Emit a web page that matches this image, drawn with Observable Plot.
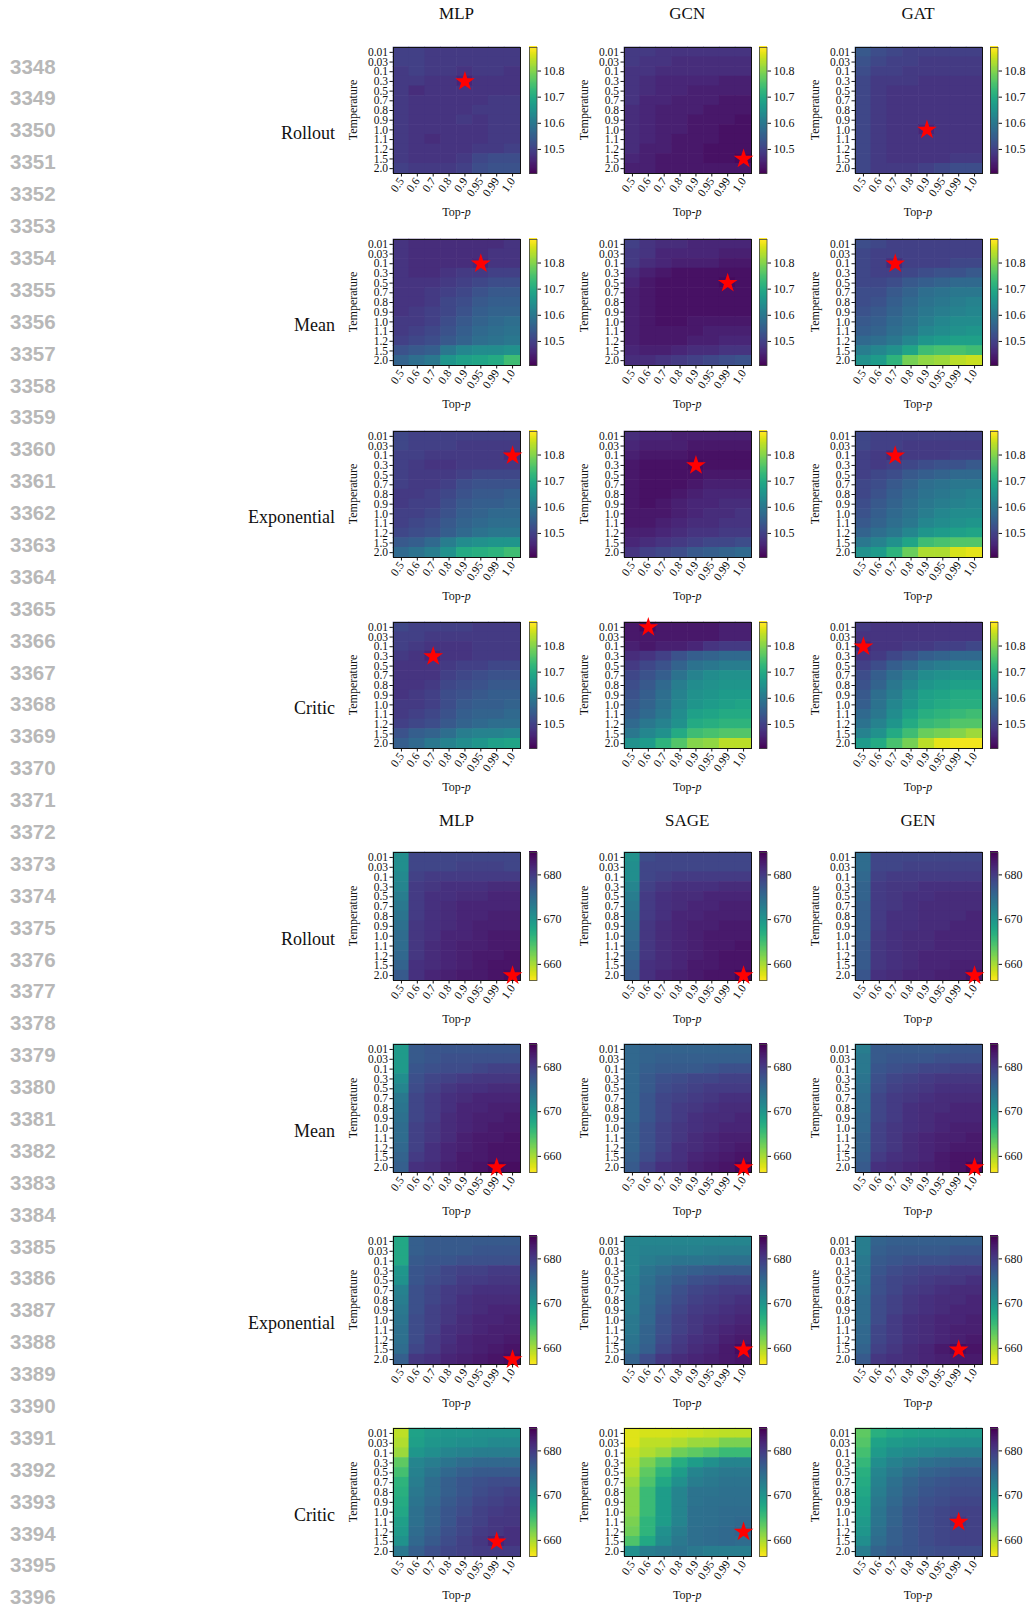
<!DOCTYPE html>
<html>
<head>
<meta charset="utf-8">
<script src="https://cdn.jsdelivr.net/npm/d3@7"></script>
<script src="https://cdn.jsdelivr.net/npm/@observablehq/plot@0.6"></script>
<style>
  body { margin: 0; background: #fff; }
  #fig { position: relative; width: 1027px; height: 1607px; overflow: hidden; background: #fff;
         font-family: "Liberation Serif", "DejaVu Serif", serif; color: #111; }
  .abs { position: absolute; white-space: nowrap; }
  .lineno { position: absolute; left: 10px; font-family: "Liberation Sans", Arial, sans-serif;
            font-weight: bold; color: #b8b8b8; font-size: 20.5px; line-height: 20px; }
  .coltitle { font-size: 17px; transform: translate(-50%, -50%); }
  .rowlabel { font-size: 18px; transform: translate(-100%, -50%); }
  .ylab { font-size: 12px; transform: translate(-50%, -50%) rotate(-90deg); }
  .xlab { font-size: 12px; transform: translate(-50%, -50%); }
  .abs svg { overflow: visible; max-width: none !important; display: block; }
</style>
</head>
<body>
<div id="fig"></div>
<script>
// ---- axes ----
const temperatures = ["0.01","0.03","0.1","0.3","0.5","0.7","0.8","0.9","1.0","1.1","1.2","1.5","2.0"];
const topPs = ["0.5","0.6","0.7","0.8","0.9","0.95","0.99","1.0"];
const strategies = ["Rollout","Mean","Exponential","Critic"];
const upperModels = ["MLP","GCN","GAT"];
const lowerModels = ["MLP","SAGE","GEN"];
const lineNumbers = d3.range(3348, 3397);

// colour bar extents and ticks
const upperDomain = [10.408, 10.89];
const upperTicks = [10.5, 10.6, 10.7, 10.8];
const lowerDomain = [656.4, 685];
const lowerTicks = [660, 670, 680];

// ---- upper block (lower is better), rows = temperature, columns = top-p ----
const upperMLPRollout = [
  [10.50,10.50,10.49,10.49,10.49,10.49,10.49,10.49],
  [10.50,10.50,10.49,10.49,10.49,10.49,10.49,10.49],
  [10.49,10.50,10.49,10.49,10.48,10.49,10.49,10.48],
  [10.49,10.49,10.48,10.48,10.46,10.48,10.48,10.48],
  [10.49,10.47,10.48,10.48,10.48,10.48,10.48,10.48],
  [10.49,10.48,10.48,10.48,10.48,10.48,10.49,10.49],
  [10.49,10.48,10.48,10.48,10.48,10.49,10.49,10.49],
  [10.49,10.48,10.48,10.48,10.49,10.48,10.49,10.49],
  [10.49,10.48,10.48,10.48,10.48,10.48,10.49,10.49],
  [10.49,10.48,10.47,10.48,10.48,10.48,10.49,10.49],
  [10.49,10.48,10.48,10.48,10.48,10.49,10.49,10.50],
  [10.49,10.48,10.48,10.48,10.49,10.51,10.52,10.52],
  [10.50,10.49,10.49,10.49,10.50,10.52,10.53,10.53]
];
const upperGCNRollout = [
  [10.49,10.49,10.48,10.48,10.48,10.48,10.48,10.48],
  [10.49,10.48,10.48,10.47,10.47,10.47,10.47,10.47],
  [10.48,10.48,10.47,10.47,10.47,10.47,10.47,10.47],
  [10.48,10.47,10.46,10.46,10.46,10.46,10.45,10.45],
  [10.48,10.47,10.46,10.46,10.45,10.45,10.45,10.45],
  [10.48,10.46,10.46,10.45,10.45,10.45,10.44,10.44],
  [10.47,10.46,10.45,10.45,10.45,10.44,10.44,10.44],
  [10.47,10.46,10.45,10.45,10.44,10.44,10.44,10.43],
  [10.47,10.46,10.45,10.45,10.44,10.44,10.43,10.43],
  [10.47,10.46,10.45,10.44,10.44,10.44,10.43,10.43],
  [10.47,10.45,10.45,10.44,10.44,10.43,10.43,10.43],
  [10.46,10.45,10.44,10.44,10.44,10.43,10.43,10.42],
  [10.45,10.45,10.44,10.44,10.44,10.44,10.44,10.44]
];
const upperGATRollout = [
  [10.54,10.52,10.51,10.50,10.50,10.50,10.50,10.50],
  [10.53,10.51,10.50,10.50,10.49,10.49,10.49,10.49],
  [10.52,10.50,10.50,10.49,10.49,10.49,10.49,10.49],
  [10.51,10.49,10.49,10.49,10.48,10.48,10.48,10.48],
  [10.51,10.49,10.48,10.48,10.48,10.48,10.48,10.48],
  [10.51,10.49,10.48,10.48,10.48,10.48,10.48,10.48],
  [10.51,10.49,10.48,10.48,10.48,10.48,10.48,10.48],
  [10.51,10.49,10.48,10.48,10.48,10.48,10.48,10.48],
  [10.51,10.49,10.48,10.48,10.46,10.48,10.48,10.48],
  [10.51,10.49,10.48,10.48,10.48,10.48,10.48,10.48],
  [10.51,10.49,10.48,10.48,10.48,10.48,10.48,10.48],
  [10.51,10.49,10.48,10.48,10.48,10.48,10.49,10.49],
  [10.51,10.49,10.49,10.49,10.50,10.51,10.52,10.52]
];
const upperMLPMean = [
  [10.48,10.47,10.47,10.47,10.47,10.47,10.47,10.48],
  [10.48,10.47,10.47,10.47,10.47,10.47,10.48,10.48],
  [10.48,10.47,10.47,10.47,10.47,10.46,10.48,10.48],
  [10.48,10.47,10.47,10.48,10.49,10.49,10.50,10.50],
  [10.48,10.48,10.48,10.49,10.50,10.51,10.52,10.52],
  [10.48,10.48,10.49,10.50,10.51,10.53,10.54,10.54],
  [10.48,10.48,10.49,10.51,10.52,10.54,10.55,10.55],
  [10.48,10.49,10.50,10.51,10.53,10.55,10.56,10.56],
  [10.49,10.49,10.50,10.52,10.54,10.56,10.57,10.58],
  [10.49,10.50,10.51,10.53,10.55,10.57,10.58,10.59],
  [10.50,10.51,10.52,10.54,10.56,10.58,10.59,10.60],
  [10.53,10.54,10.55,10.60,10.63,10.64,10.64,10.65],
  [10.56,10.58,10.60,10.66,10.68,10.69,10.70,10.74]
];
const upperGCNMean = [
  [10.50,10.48,10.47,10.47,10.46,10.46,10.46,10.46],
  [10.49,10.48,10.46,10.46,10.46,10.46,10.45,10.45],
  [10.49,10.47,10.46,10.45,10.45,10.45,10.44,10.44],
  [10.47,10.45,10.44,10.43,10.43,10.43,10.43,10.43],
  [10.46,10.44,10.43,10.43,10.43,10.43,10.42,10.43],
  [10.45,10.44,10.43,10.43,10.43,10.43,10.43,10.43],
  [10.45,10.44,10.43,10.43,10.43,10.43,10.43,10.43],
  [10.45,10.44,10.43,10.43,10.43,10.43,10.43,10.43],
  [10.45,10.44,10.43,10.43,10.44,10.44,10.44,10.44],
  [10.45,10.44,10.44,10.44,10.44,10.45,10.45,10.45],
  [10.45,10.44,10.44,10.44,10.45,10.45,10.46,10.46],
  [10.46,10.45,10.45,10.46,10.47,10.47,10.48,10.48],
  [10.47,10.47,10.48,10.49,10.50,10.51,10.52,10.53]
];
const upperGATMean = [
  [10.52,10.51,10.50,10.50,10.50,10.50,10.50,10.50],
  [10.51,10.50,10.50,10.50,10.50,10.50,10.50,10.50],
  [10.51,10.50,10.47,10.50,10.50,10.50,10.51,10.51],
  [10.51,10.50,10.50,10.51,10.52,10.53,10.53,10.54],
  [10.51,10.51,10.52,10.54,10.55,10.56,10.57,10.57],
  [10.52,10.52,10.54,10.56,10.58,10.59,10.60,10.60],
  [10.52,10.53,10.55,10.57,10.59,10.60,10.61,10.62],
  [10.53,10.54,10.56,10.58,10.60,10.61,10.62,10.63],
  [10.54,10.55,10.57,10.59,10.61,10.63,10.64,10.64],
  [10.55,10.56,10.58,10.60,10.63,10.64,10.65,10.66],
  [10.57,10.58,10.60,10.63,10.66,10.67,10.68,10.68],
  [10.61,10.63,10.65,10.69,10.74,10.75,10.75,10.74],
  [10.65,10.67,10.72,10.79,10.81,10.82,10.84,10.85]
];
const upperMLPExponential = [
  [10.51,10.50,10.50,10.50,10.50,10.50,10.50,10.50],
  [10.51,10.50,10.50,10.50,10.49,10.49,10.49,10.49],
  [10.50,10.50,10.49,10.49,10.49,10.49,10.49,10.47],
  [10.50,10.49,10.48,10.48,10.49,10.49,10.49,10.49],
  [10.50,10.49,10.49,10.49,10.50,10.51,10.51,10.51],
  [10.50,10.49,10.49,10.50,10.52,10.53,10.53,10.53],
  [10.49,10.49,10.50,10.51,10.53,10.54,10.54,10.55],
  [10.49,10.50,10.50,10.52,10.54,10.55,10.55,10.56],
  [10.50,10.50,10.51,10.53,10.55,10.56,10.57,10.57],
  [10.50,10.51,10.52,10.54,10.56,10.57,10.58,10.58],
  [10.51,10.52,10.53,10.55,10.57,10.59,10.60,10.60],
  [10.54,10.55,10.57,10.61,10.64,10.65,10.66,10.66],
  [10.57,10.59,10.61,10.65,10.70,10.71,10.72,10.74]
];
const upperGCNExponential = [
  [10.47,10.46,10.46,10.45,10.45,10.45,10.45,10.45],
  [10.46,10.45,10.45,10.45,10.44,10.44,10.44,10.44],
  [10.45,10.44,10.44,10.44,10.43,10.43,10.43,10.43],
  [10.44,10.43,10.43,10.43,10.42,10.43,10.43,10.43],
  [10.44,10.43,10.43,10.43,10.43,10.44,10.44,10.44],
  [10.44,10.43,10.43,10.43,10.44,10.45,10.45,10.45],
  [10.44,10.43,10.43,10.44,10.45,10.46,10.46,10.46],
  [10.44,10.43,10.44,10.45,10.46,10.46,10.47,10.47],
  [10.44,10.44,10.44,10.45,10.46,10.47,10.47,10.48],
  [10.44,10.44,10.45,10.46,10.47,10.47,10.48,10.48],
  [10.45,10.45,10.46,10.47,10.48,10.48,10.49,10.49],
  [10.46,10.47,10.48,10.49,10.50,10.51,10.51,10.52],
  [10.48,10.50,10.51,10.52,10.54,10.55,10.56,10.57]
];
const upperGATExponential = [
  [10.51,10.50,10.50,10.50,10.50,10.50,10.50,10.50],
  [10.51,10.50,10.50,10.49,10.49,10.49,10.49,10.49],
  [10.50,10.49,10.47,10.49,10.49,10.49,10.50,10.50],
  [10.50,10.49,10.50,10.51,10.52,10.53,10.53,10.54],
  [10.50,10.51,10.52,10.54,10.55,10.56,10.57,10.57],
  [10.51,10.52,10.54,10.56,10.58,10.59,10.60,10.60],
  [10.51,10.53,10.55,10.57,10.59,10.60,10.61,10.62],
  [10.52,10.54,10.56,10.58,10.60,10.61,10.62,10.63],
  [10.53,10.55,10.57,10.59,10.61,10.63,10.64,10.64],
  [10.54,10.56,10.58,10.60,10.63,10.64,10.65,10.66],
  [10.56,10.58,10.60,10.63,10.66,10.67,10.68,10.69],
  [10.60,10.62,10.65,10.69,10.74,10.75,10.76,10.76],
  [10.65,10.67,10.72,10.78,10.83,10.83,10.86,10.87]
];
const upperMLPCritic = [
  [10.51,10.50,10.50,10.50,10.50,10.49,10.49,10.49],
  [10.50,10.50,10.49,10.49,10.49,10.49,10.49,10.49],
  [10.50,10.49,10.48,10.48,10.48,10.49,10.49,10.49],
  [10.49,10.48,10.46,10.48,10.48,10.49,10.49,10.49],
  [10.48,10.48,10.48,10.49,10.50,10.50,10.51,10.51],
  [10.48,10.48,10.48,10.50,10.51,10.52,10.53,10.53],
  [10.48,10.48,10.49,10.51,10.52,10.53,10.54,10.54],
  [10.48,10.49,10.50,10.52,10.53,10.54,10.55,10.55],
  [10.49,10.49,10.50,10.52,10.54,10.55,10.55,10.56],
  [10.49,10.50,10.51,10.53,10.55,10.56,10.56,10.57],
  [10.50,10.51,10.52,10.54,10.56,10.57,10.58,10.58],
  [10.53,10.55,10.56,10.58,10.61,10.62,10.62,10.63],
  [10.55,10.57,10.60,10.62,10.64,10.66,10.68,10.69]
];
const upperGCNCritic = [
  [10.44,10.42,10.44,10.44,10.44,10.44,10.45,10.45],
  [10.44,10.44,10.44,10.44,10.44,10.44,10.45,10.45],
  [10.45,10.44,10.45,10.45,10.46,10.48,10.49,10.49],
  [10.47,10.48,10.50,10.53,10.55,10.56,10.57,10.57],
  [10.49,10.51,10.53,10.56,10.59,10.60,10.61,10.61],
  [10.51,10.53,10.55,10.59,10.62,10.64,10.65,10.65],
  [10.52,10.54,10.57,10.61,10.64,10.65,10.66,10.66],
  [10.53,10.55,10.58,10.62,10.65,10.66,10.67,10.67],
  [10.54,10.56,10.59,10.63,10.66,10.67,10.68,10.69],
  [10.55,10.57,10.60,10.64,10.68,10.69,10.70,10.70],
  [10.57,10.60,10.62,10.65,10.70,10.71,10.72,10.72],
  [10.60,10.63,10.65,10.70,10.74,10.75,10.76,10.76],
  [10.65,10.67,10.72,10.76,10.80,10.81,10.84,10.84]
];
const upperGATCritic = [
  [10.49,10.48,10.48,10.48,10.48,10.48,10.48,10.48],
  [10.48,10.48,10.48,10.48,10.48,10.48,10.48,10.48],
  [10.46,10.48,10.48,10.49,10.49,10.50,10.50,10.51],
  [10.48,10.49,10.51,10.53,10.55,10.56,10.57,10.57],
  [10.50,10.52,10.55,10.57,10.60,10.61,10.62,10.62],
  [10.52,10.55,10.58,10.61,10.64,10.65,10.66,10.66],
  [10.53,10.56,10.60,10.63,10.66,10.67,10.68,10.68],
  [10.54,10.58,10.61,10.65,10.68,10.69,10.70,10.70],
  [10.55,10.59,10.63,10.66,10.69,10.70,10.71,10.71],
  [10.57,10.60,10.64,10.68,10.71,10.72,10.73,10.74],
  [10.59,10.62,10.66,10.70,10.73,10.74,10.76,10.76],
  [10.62,10.65,10.70,10.74,10.78,10.79,10.80,10.82],
  [10.67,10.70,10.75,10.79,10.84,10.87,10.88,10.88]
];

// ---- lower block (higher is better) ----
const lowerMLPRollout = [
  [671,679,679,679,679,679,679,679],
  [671,679,679,679,679.5,679.5,679.5,679],
  [671.5,679.5,680,680,680,680,680,680],
  [672,680,680.5,681,681,681,681.5,681.5],
  [673,680,681,681,681.5,681.5,682,682],
  [673.5,680,681,681.5,682,682,682,682],
  [674,680,681,681.5,682,682,682.5,682.5],
  [674.5,680.5,681,681.5,682,682.5,682.5,682.5],
  [675,680.5,681,682,682,682.5,683,683],
  [675,680.5,681.5,682,682.5,682.5,683,683],
  [675.5,680.5,681.5,682,682.5,683,683,683.5],
  [676,681,681.5,682,682.5,683,683.5,683.5],
  [677,681,682,682.5,683,683,683.5,684]
];
const lowerSAGERollout = [
  [670.5,678.5,679,679,679,679,679,679],
  [671,679,679,679,679,679,679,679],
  [671,679,679.5,680,680,680,680,680],
  [672,679.5,680.5,681,681,681,681.5,681.5],
  [673,680,681,681.5,681.5,682,682,682],
  [673.5,680,681,681.5,682,682,682.5,682.5],
  [674,680,681,682,682,682.5,682.5,682.5],
  [674.5,680.5,681.5,682,682.5,682.5,683,683],
  [675,680.5,681.5,682,682.5,683,683,683],
  [675.5,680.5,681.5,682,682.5,683,683,683.5],
  [676,680.5,681.5,682,682.5,683,683.5,683.5],
  [676.5,681,681.5,682,683,683,683.5,683.5],
  [677,681,682,682.5,683,683.5,683.5,684.5]
];
const lowerGENRollout = [
  [675,679,679,679,679,679,679,679],
  [675,679,679,679.5,679.5,679.5,679.5,679.5],
  [675.5,679.5,680,680,680,680,680,680],
  [676,680,680.5,680.5,681,681,681,681],
  [676,680,680.5,681,681,681.5,681.5,681.5],
  [676.5,680,680.5,681,681.5,681.5,681.5,681.5],
  [676.5,680,681,681,681.5,681.5,681.5,682],
  [676.5,680,681,681,681.5,681.5,682,682],
  [676.5,680.5,681,681.5,681.5,682,682,682],
  [677,680.5,681,681.5,681.5,682,682,682],
  [677,680.5,681,681.5,682,682,682,682],
  [677,680.5,681,681.5,682,682,682.5,682.5],
  [677.5,681,681.5,682,682,682.5,682.5,683.5]
];
const lowerMLPMean = [
  [669.5,677,677.5,677.5,677.5,677.5,677.5,677.5],
  [669.5,677,677.5,678,678,678,678,678],
  [669.5,677.5,678,678.5,678.5,679,679.5,679.5],
  [671,678,679,679.5,680,680.5,680.5,680.5],
  [672,678.5,679.5,680.5,681,681,681.5,681.5],
  [673.5,679,680,681,681.5,682,682,682],
  [674,679,680,681,682,682,682.5,682.5],
  [674.5,679,680,681.5,682,682.5,682.5,683],
  [675,679.5,680.5,681.5,682,682.5,683,683],
  [675,679.5,680.5,681.5,682.5,683,683,683.5],
  [675.5,679.5,681,682,682.5,683,683.5,683.5],
  [676,680,681,682,683,683,683.5,683.5],
  [676.5,681,681.5,682.5,683,683.5,684.5,684]
];
const lowerSAGEMean = [
  [675.5,676,676,676,676,676,676,676],
  [675.5,676,676.5,676.5,676.5,676.5,676.5,676.5],
  [675.5,676.5,677,677,677,677.5,678,678],
  [675.5,677,678,678.5,679,679,679.5,679.5],
  [675.5,677,678.5,679,679.5,680,680,680],
  [675.5,677.5,679,679.5,680,680.5,681,681],
  [675.5,677.5,679,680,680.5,681,681.5,681.5],
  [675.5,677.5,679,680,681,681.5,681.5,682],
  [676,678,679.5,680.5,681,681.5,682,682],
  [676,678,679.5,680.5,681.5,682,682.5,682.5],
  [676,678,679.5,681,681.5,682,682.5,683],
  [676.5,678.5,680,681,682,682.5,683,683.5],
  [677,679.5,681,681.5,682.5,683,683.5,684.5]
];
const lowerGENMean = [
  [673,677,677,677,677,677,677.5,677.5],
  [673.5,677,677.5,677.5,677.5,678,678,678],
  [673.5,677.5,678,678.5,679,679,679.5,679.5],
  [674,678,679,679.5,680,680.5,680.5,680.5],
  [674.5,678.5,679.5,680,680.5,681,681,681],
  [675,679,680,680.5,681,681.5,681.5,681.5],
  [675,679,680,681,681.5,681.5,682,682],
  [675.5,679,680,681,681.5,682,682,682],
  [675.5,679.5,680.5,681,681.5,682,682.5,682.5],
  [676,679.5,680.5,681.5,682,682.5,682.5,683],
  [676,679.5,680.5,681.5,682,682.5,683,683],
  [676.5,680,681,681.5,682,683,683.5,683.5],
  [677,681,681.5,682,682.5,683,683.5,684.5]
];
const lowerMLPExponential = [
  [668,676.5,677,677,677,677,677,677],
  [668,676.5,677,677,677,677.5,677.5,677.5],
  [668,677,677.5,677.5,678,678,678,678],
  [670,677.5,678,679,679.5,679.5,680,680],
  [670.5,677.5,678.5,679,680,680,680.5,680.5],
  [672.5,678,679,680,680.5,681,681,681],
  [673,678,679,680,681,681.5,681.5,681.5],
  [673.5,678,679.5,680.5,681,681.5,682,682],
  [674,678.5,679.5,680.5,681.5,682,682,682.5],
  [674.5,678.5,679.5,681,681.5,682,682.5,682.5],
  [674.5,678.5,680,681,682,682.5,682.5,683],
  [675,679,680,681.5,682,682.5,683,683.5],
  [676.5,680.5,681,682,682.5,683,683.5,684]
];
const lowerSAGEExponential = [
  [672,672,672,672,672,672,672,672],
  [672,672.5,672.5,672.5,672.5,673,673,673],
  [672,673,673.5,674,674,674,674.5,674.5],
  [672,674,675,676,676.5,677,677,677],
  [672.5,674.5,676,677,678,678.5,679,679],
  [672.5,675,676.5,678,679,679.5,680,680],
  [673,675,677,678.5,679.5,680,680.5,681],
  [673,675.5,677.5,679,680,680.5,681,681.5],
  [673.5,675.5,678,679.5,680.5,681,681.5,682],
  [673.5,676,678,679.5,680.5,681.5,682,682.5],
  [674,676,678.5,680,681,681.5,682.5,683],
  [674.5,676.5,679,680.5,681.5,682,683,684],
  [676,678.5,680.5,681.5,682,682.5,683,683.5]
];
const lowerGENExponential = [
  [673,676,676.5,676.5,676.5,676.5,676.5,676.5],
  [673,676.5,677,677,677,677,677.5,677.5],
  [673.5,677,677.5,678,678,678,678.5,678.5],
  [674,677.5,678.5,679,679.5,679.5,680,680],
  [674,678,679,679.5,680,680.5,680.5,681],
  [674.5,678,679,680,680.5,681,681.5,681.5],
  [675,678.5,679.5,680.5,681,681.5,681.5,682],
  [675,678.5,679.5,680.5,681,681.5,682,682],
  [675,678.5,680,681,681.5,682,682,682.5],
  [675.5,679,680,681,681.5,682,682.5,682.5],
  [675.5,679,680,681,681.5,682,682.5,683],
  [676,679.5,680.5,681.5,682,683,684,683.5],
  [677,680.5,681,681.5,682,682.5,683,683]
];
const lowerMLPCritic = [
  [659.3,668.5,669.5,670,670,670.5,670.5,670.5],
  [659.8,669,670,670.5,671,671,671.5,671.5],
  [660.7,670,671,672,672.5,673,673,673],
  [663.5,672,673,674,675,675.5,675.5,675.5],
  [665,672.5,674,675.5,676.5,677,677,677],
  [666.5,673,675,676.5,677.5,678,678.5,678.5],
  [667,673.5,675,676.5,677.5,678.5,679,679.5],
  [667.5,674,675.5,677,678,679,679.5,680],
  [668,674.5,676,677.5,678.5,679.5,680,680.5],
  [669,674.5,676,677.5,679,679.5,680.5,680.5],
  [669.5,675,676.5,678,679,680,680.5,681],
  [670.5,675.5,677,678.5,679.5,680.5,682,681],
  [673.5,676.5,678,679,679.5,680,680,680]
];
const lowerSAGECritic = [
  [657.8,658.2,658.2,658.5,658.7,659,659.3,659.3],
  [657.8,659.3,659.3,659.8,660.7,660.7,662.1,662.1],
  [658.7,659.8,660.7,662.7,663.5,664.4,665.6,665.6],
  [659.3,662.1,664.4,667.3,669.3,670.7,672.1,672.1],
  [659.8,663.5,666.4,669.3,672.1,673,673.6,673.6],
  [660.7,664.4,667.8,670.7,673,673.6,674.1,674.1],
  [661.5,665.6,669.3,672.1,674.1,674.1,674.5,674.5],
  [661.5,665.6,669.3,672.1,674.1,674.5,674.7,674.7],
  [661.5,665.6,669.3,672.1,674.5,674.7,675,675],
  [662.1,666.4,669.3,672.1,674.5,674.7,675,675.3],
  [662.7,666.4,670.7,673,674.7,675,675.3,676],
  [664.4,667.8,671.3,673.6,674.7,675,675.3,675],
  [670.7,673,673.6,674.1,673.6,673,673,673]
];
const lowerGENCritic = [
  [663.5,667,668,668.5,669,669,669.5,669.5],
  [664,668.5,669.5,670,670.5,670.5,671,671],
  [665,669.5,671,671.5,672,672.5,673,673],
  [666,671,672.5,673.5,674.5,675,675.5,675.5],
  [667,672,673.5,675,676,676.5,677,677],
  [667.5,672.5,674.5,676,677,677.5,678,678],
  [668,673,675,676.5,677.5,678,678.5,678.5],
  [668.5,673.5,675.5,677,678,678.5,679,679],
  [669,674,676,677.5,678.5,679,679.5,679.5],
  [669.5,674,676,677.5,678.5,679,680.5,679.5],
  [670,674.5,676.5,677.5,678.5,679,679.5,679.5],
  [671,675,676.5,677.5,678.5,679,679.5,679.5],
  [673,676,677,677.5,678,678.5,678.5,678.5]
];

const upperGrids = {
  Rollout: [upperMLPRollout, upperGCNRollout, upperGATRollout],
  Mean: [upperMLPMean, upperGCNMean, upperGATMean],
  Exponential: [upperMLPExponential, upperGCNExponential, upperGATExponential],
  Critic: [upperMLPCritic, upperGCNCritic, upperGATCritic]
};
const lowerGrids = {
  Rollout: [lowerMLPRollout, lowerSAGERollout, lowerGENRollout],
  Mean: [lowerMLPMean, lowerSAGEMean, lowerGENMean],
  Exponential: [lowerMLPExponential, lowerSAGEExponential, lowerGENExponential],
  Critic: [lowerMLPCritic, lowerSAGECritic, lowerGENCritic]
};

// ---- layout ----
const fig = document.getElementById("fig");
const colLeft = [393, 623.8, 854.5];
const HW = 127;                       // heatmap width
const rowStep = 191.8;
const upperTop = 47, upperH = 126;
const lowerTop = 852.3, lowerH = 128;
const ML = 46, MR = 2, MT = 2, MB = 44;
const CB_GAP = 8.5, CB_W = 7.5, CB_MR = 40;

function place(node, left, top, w) {
  const wrap = document.createElement("div");
  wrap.className = "abs";
  wrap.style.left = left + "px";
  wrap.style.top = top + "px";
  wrap.style.width = w + "px";
  wrap.appendChild(node);
  fig.appendChild(wrap);
  return wrap;
}
function label(html, cls, x, y) {
  const d = document.createElement("div");
  d.className = "abs " + cls;
  d.style.left = x + "px";
  d.style.top = y + "px";
  d.innerHTML = html;
  fig.appendChild(d);
}

const serif = "'Liberation Serif', 'DejaVu Serif', serif";

function heatmap(grid, color, h, pickBest) {
  const cells = [];
  grid.forEach((row, i) => row.forEach((v, j) => cells.push({t: temperatures[i], p: topPs[j], v})));
  const best = pickBest(cells, d => d.v);
  return Plot.plot({
    width: ML + HW + MR, height: MT + h + MB,
    marginLeft: ML, marginRight: MR, marginTop: MT, marginBottom: MB,
    style: {fontFamily: serif, fontSize: "11.5px", background: "transparent", overflow: "visible", color: "#111", maxWidth: "none"},
    x: {domain: topPs, padding: 0, round: false, tickRotate: -55, tickSize: 3.5, tickPadding: 2, label: null},
    y: {domain: temperatures, padding: 0, round: false, tickSize: 3.5, tickPadding: 2, label: null},
    color,
    marks: [
      Plot.cell(cells, {x: "p", y: "t", fill: "v", inset: -0.3}),
      Plot.frame({stroke: "#111", strokeWidth: 1}),
      Plot.dot([best], {x: "p", y: "t", symbol: "star", r: 6.2, fill: "#ff0000", stroke: "none"})
    ]
  });
}

function colorbar(color, ticks, fmt, h) {
  const [lo, hi] = color.domain;
  const n = 128;
  const slices = d3.range(n).map(i => ({a: lo + (hi - lo) * i / n, b: lo + (hi - lo) * (i + 1) / n}));
  return Plot.plot({
    width: CB_W + CB_MR, height: MT + h + MB,
    marginLeft: 0, marginRight: CB_MR, marginTop: MT, marginBottom: MB,
    style: {fontFamily: serif, fontSize: "12px", background: "transparent", overflow: "visible", color: "#111", maxWidth: "none"},
    x: {domain: [0, 1], axis: null},
    y: {domain: [lo, hi], axis: "right", ticks, tickFormat: fmt, tickSize: 3.5, tickPadding: 3, label: null},
    color,
    marks: [
      Plot.rect(slices, {x1: () => 0, x2: () => 1, y1: "a", y2: "b", fill: d => (d.a + d.b) / 2,
                         insetTop: -0.6, insetBottom: -0.6, shapeRendering: "crispEdges"}),
      Plot.frame({stroke: "#444", strokeWidth: 0.8})
    ]
  });
}

function block(grids, models, top0, h, color, ticks, fmt, pickBest, titleY) {
  models.forEach((m, c) => label(m, "coltitle", colLeft[c] + HW / 2, titleY));
  strategies.forEach((s, r) => {
    const top = top0 + r * rowStep;
    label(s, "rowlabel", 335, top + h * 0.5 + 23);
    grids[s].forEach((grid, c) => {
      const left = colLeft[c];
      place(heatmap(grid, color, h, pickBest), left - ML, top - MT, ML + HW + MR);
      place(colorbar(color, ticks, fmt, h), left + HW + CB_GAP, top - MT, CB_W + CB_MR);
      label("Temperature", "ylab", left - 40, top + h / 2);
      label("Top-<i>p</i>", "xlab", left + HW / 2, top + h + 39);
    });
  });
}

const upperColor = {type: "linear", scheme: "viridis", domain: upperDomain};
const lowerColor = {type: "linear", scheme: "viridis", reverse: true, domain: lowerDomain};

block(upperGrids, upperModels, upperTop, upperH, upperColor, upperTicks, d3.format(".1f"),
      (cells, f) => cells[d3.minIndex(cells, f)], 14);
block(lowerGrids, lowerModels, lowerTop, lowerH, lowerColor, lowerTicks, d3.format("d"),
      (cells, f) => cells[d3.maxIndex(cells, f)], 821);

// margin line numbers
lineNumbers.forEach((n, i) => {
  const d = document.createElement("div");
  d.className = "lineno";
  d.style.top = (66.6 + 31.89 * i - 10) + "px";
  d.textContent = n;
  fig.appendChild(d);
});
</script>
</body>
</html>
